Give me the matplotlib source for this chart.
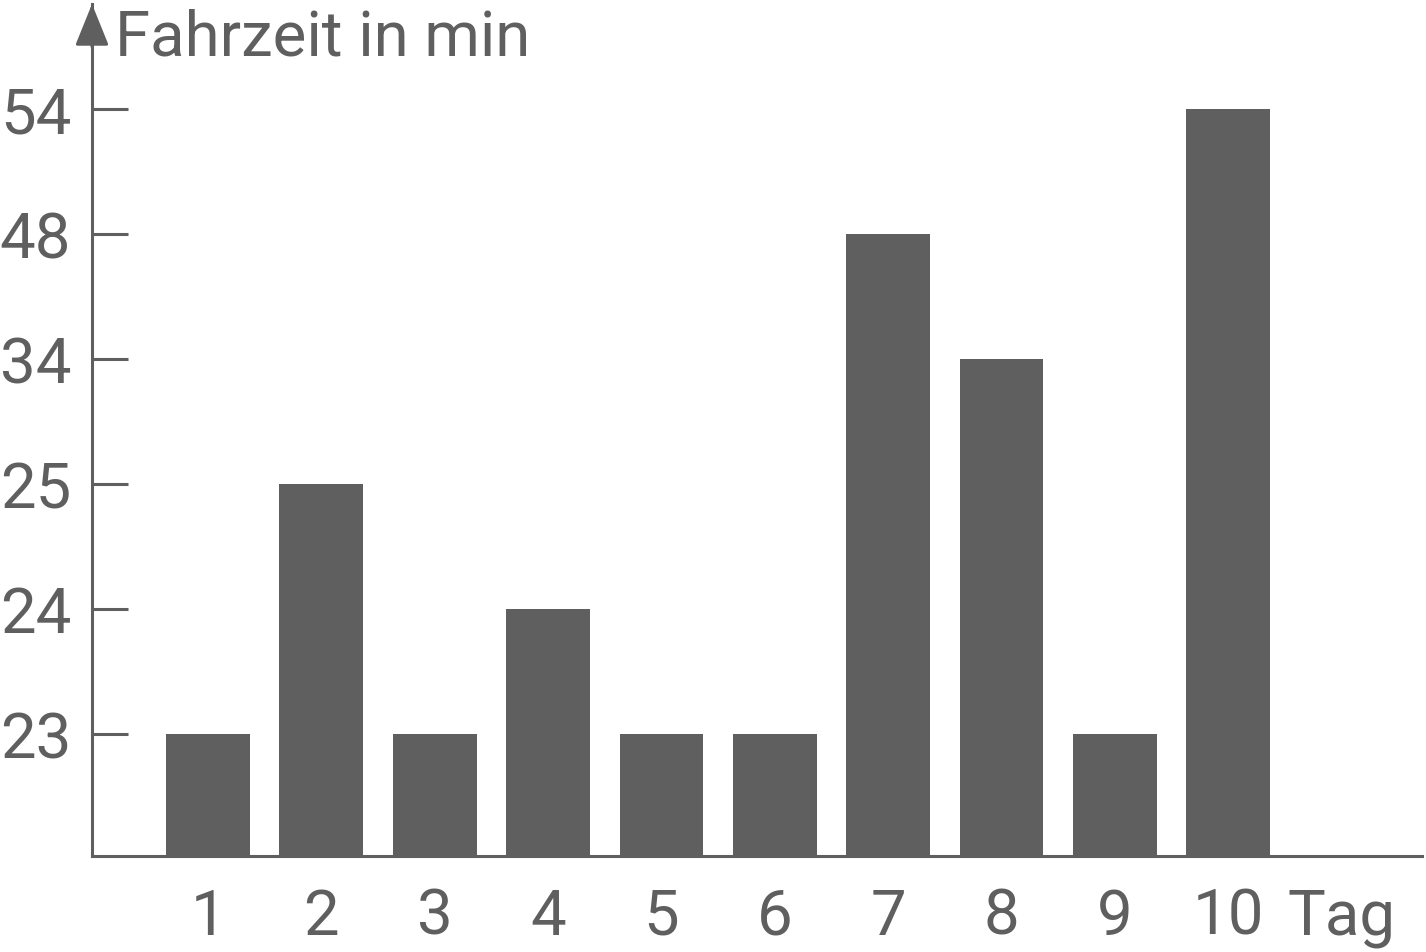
import numpy as np
import matplotlib
matplotlib.use("Agg")
import matplotlib.pyplot as plt

# data (axis is not linear: ticks are evenly spaced)
days = [1, 2, 3, 4, 5, 6, 7, 8, 9, 10]
minutes = [23, 25, 23, 24, 23, 23, 48, 34, 23, 54]
tick_values = [23, 24, 25, 34, 48, 54]

GREY = "#5f5f5f"
plt.rcParams["font.family"] = ["Roboto", "DejaVu Sans"]

# piecewise mapping value -> evenly spaced slot
anchor_v = [22] + tick_values + [60]
anchor_p = list(range(len(anchor_v)))


def forward(v):
    return np.interp(v, anchor_v, anchor_p)


def inverse(p):
    return np.interp(p, anchor_p, anchor_v)


fig = plt.figure(figsize=(14.26, 9.53), dpi=100)
ax = fig.add_axes([92 / 1426, 96 / 953, 1330 / 1426, 852 / 953])
ax.set_yscale("function", functions=(forward, inverse))

base = 22
ax.bar(days, [m - base for m in minutes], bottom=base, width=0.74,
       color=GREY, zorder=2)

ax.set_xlim(-0.024, 11.71)
ax.set_ylim(base + 0.02, inverse(6.84))

ax.set_yticks(tick_values)
ax.set_yticklabels([str(t) for t in tick_values])
ax.yaxis.set_minor_locator(matplotlib.ticker.NullLocator())
ax.set_xticks(days + [11])
ax.set_xticklabels([str(d) for d in days] + ["Tag"])

ax.tick_params(axis="y", direction="in", length=26, width=2.2, pad=15,
               color=GREY, labelcolor=GREY, labelsize=45.7)
ax.tick_params(axis="x", length=0, pad=22, labelcolor=GREY, labelsize=45.7)

for side in ("top", "right"):
    ax.spines[side].set_visible(False)
for side in ("left", "bottom"):
    ax.spines[side].set_color(GREY)
    ax.spines[side].set_linewidth(2.2)

# arrow on the y axis
ax.annotate("", xy=(0, 1), xytext=(0, 0.95), xycoords="axes fraction",
            arrowprops=dict(arrowstyle="-|>,head_length=2.6,head_width=1.05",
                            mutation_scale=10, color=GREY, lw=2.2,
                            shrinkA=0, shrinkB=0), annotation_clip=False)

fig.text(115 / 1426, 1 - 55 / 953, "Fahrzeit in min", color=GREY,
         fontsize=45.7, va="baseline", ha="left")

fig.savefig("out.png", dpi=100)
